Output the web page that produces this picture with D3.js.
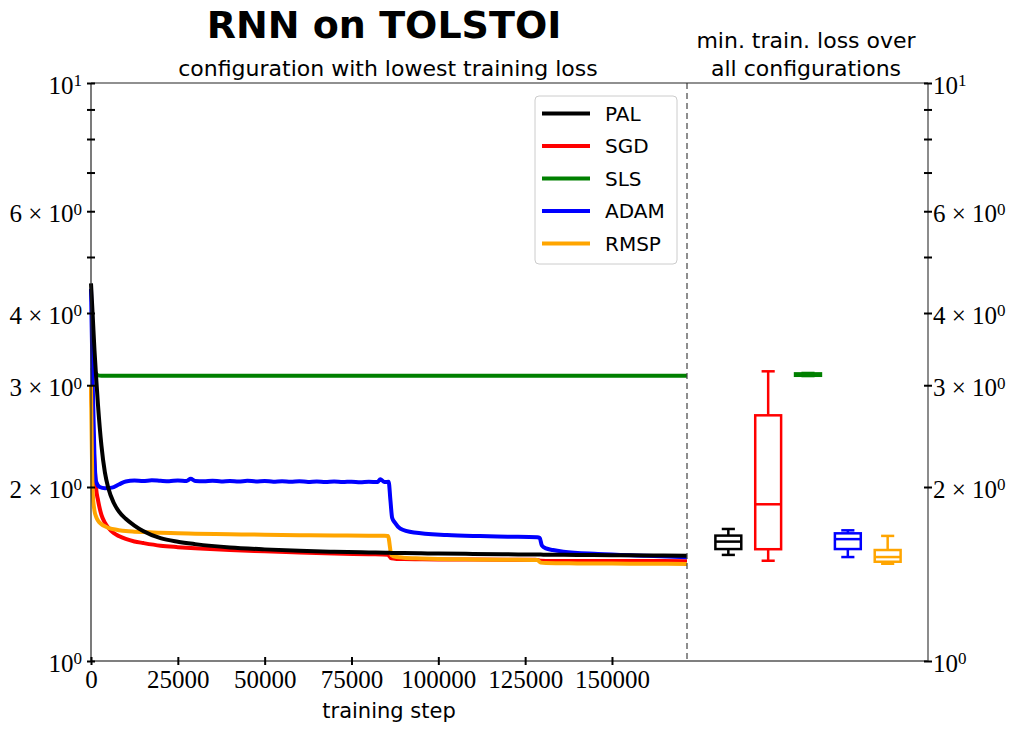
<!DOCTYPE html>
<html>
<head>
<meta charset="utf-8">
<script src="https://cdn.jsdelivr.net/npm/d3@7"></script>
<style>
  body { margin: 0; background: #fff; }
  svg { display: block; }
  .sans { font-family: "DejaVu Sans", sans-serif; }
  .serif { font-family: "Liberation Serif", "DejaVu Serif", serif; }
</style>
</head>
<body>
<div id="chart"></div>
<script>
// ---- data ----
const optimizers = ["PAL", "SGD", "SLS", "ADAM", "RMSP"];
const colors = ["#000000", "#ff0000", "#008000", "#0000ff", "#ffa500"];

const steps = [0, 500, 1000, 1500, 2000, 3000, 4000, 5000, 6500, 8000, 10000, 12500, 15000,
   20000, 25000, 30000, 40000, 50000, 60000, 70000, 80000, 85500, 86500, 88000, 90000, 95000,
   100000, 110000, 120000, 128500, 129500, 131000, 135000, 140000, 150000, 160000, 171600];

const palLoss = [4.50, 3.95, 3.45, 3.08, 2.78, 2.36, 2.12, 1.99, 1.88, 1.815, 1.762, 1.715, 1.678,
   1.631, 1.608, 1.593, 1.572, 1.560, 1.551, 1.545, 1.541, 1.539, 1.538, 1.538, 1.537, 1.536,
   1.534, 1.532, 1.530, 1.528, 1.528, 1.527, 1.527, 1.526, 1.524, 1.523, 1.521];

const sgdLoss = [3.00, 2.55, 2.20, 1.98, 1.90, 1.79, 1.735, 1.70, 1.665, 1.645, 1.626, 1.610, 1.600,
   1.583, 1.574, 1.567, 1.556, 1.548, 1.541, 1.535, 1.530, 1.527, 1.505, 1.502, 1.501, 1.500,
   1.499, 1.498, 1.497, 1.496, 1.491, 1.490, 1.490, 1.490, 1.489, 1.489, 1.488];

const slsLoss = [3.22, 3.21, 3.18, 3.14, 3.12, 3.115, 3.116, 3.115, 3.114, 3.115, 3.116, 3.115, 3.115,
   3.114, 3.115, 3.116, 3.115, 3.114, 3.115, 3.115, 3.116, 3.115, 3.114, 3.115, 3.115, 3.116,
   3.115, 3.114, 3.115, 3.115, 3.116, 3.115, 3.114, 3.115, 3.115, 3.116, 3.115];

const rmspLoss = [3.00, 1.95, 1.82, 1.775, 1.75, 1.725, 1.71, 1.70, 1.69, 1.684, 1.678, 1.674, 1.671,
   1.667, 1.664, 1.661, 1.657, 1.654, 1.651, 1.649, 1.647, 1.646, 1.525, 1.513, 1.509, 1.505,
   1.502, 1.499, 1.497, 1.495, 1.480, 1.477, 1.476, 1.475, 1.474, 1.473, 1.472];

const adamSteps = [0, 500, 1000, 1500, 2500, 4000, 6000, 8000, 10000, 12500, 15000, 17500, 20000,
   22500, 25000, 27500, 28700, 30000, 32500, 35000, 37500, 40000, 42500, 45000, 47500, 50000,
   52500, 55000, 57500, 60000, 62500, 65000, 67500, 70000, 72500, 75000, 77500, 80000, 82500,
   83300, 84500, 85700, 86200, 86700, 87500, 89000, 93000, 102500, 112000, 120000, 128500,
   129200, 129800, 131000, 133000, 136000, 146000, 160000, 171600];

const adamLoss = [4.40, 3.00, 2.25, 2.04, 2.00, 1.99, 1.995, 2.02, 2.045, 2.052, 2.048, 2.054, 2.050,
   2.047, 2.053, 2.049, 2.066, 2.049, 2.046, 2.051, 2.045, 2.049, 2.044, 2.050, 2.045, 2.048,
   2.043, 2.047, 2.042, 2.046, 2.041, 2.045, 2.040, 2.044, 2.040, 2.043, 2.039, 2.042, 2.040,
   2.062, 2.040, 2.042, 1.90, 1.77, 1.735, 1.695, 1.668, 1.652, 1.645, 1.641, 1.637,
   1.632, 1.585, 1.566, 1.556, 1.546, 1.532, 1.521, 1.512];

// min. train. loss over all configurations: [min, q1, median, q3, max]
const boxStats = [
   [1.526, 1.562, 1.609, 1.648, 1.692],   // PAL
   [1.491, 1.561, 1.867, 2.661, 3.171],   // SGD
   [3.112, 3.115, 3.130, 3.145, 3.150],   // SLS
   [1.513, 1.562, 1.625, 1.663, 1.683],   // ADAM
   [1.473, 1.485, 1.513, 1.556, 1.646]    // RMSP
];

const xTicks = [0, 25000, 50000, 75000, 100000, 125000, 150000];
const yMajor = [1, 2, 3, 4, 6, 10];
const yMinor = [5, 7, 8, 9];

// ---- layout ----
const W = 1018, H = 732;
const m = { left: 91, top: 83, bottom: 661, split: 687, right: 928 };

const svg = d3.select("#chart").append("svg")
   .attr("width", W)
   .attr("height", H);

const x = d3.scaleLinear().domain([0, 171600]).range([m.left, m.split]);
const y = d3.scaleLog().domain([1, 10]).range([m.bottom, m.top]);
const xb = d3.scaleLinear().domain([0, 6]).range([688.5, 927.5]);

// titles
svg.append("text")
   .attr("class", "sans")
   .attr("x", 384).attr("y", 38)
   .attr("text-anchor", "middle")
   .style("font-size", "38px").style("font-weight", "bold")
   .text("RNN on TOLSTOI");

svg.append("text")
   .attr("class", "sans")
   .attr("x", 388).attr("y", 76)
   .attr("text-anchor", "middle")
   .style("font-size", "22px")
   .text("configuration with lowest training loss");

svg.append("text")
   .attr("class", "sans")
   .attr("x", 806).attr("y", 48)
   .attr("text-anchor", "middle")
   .style("font-size", "22px")
   .text("min. train. loss over");

svg.append("text")
   .attr("class", "sans")
   .attr("x", 806).attr("y", 76)
   .attr("text-anchor", "middle")
   .style("font-size", "22px")
   .text("all configurations");

// lines
const line = d3.line()
   .curve(d3.curveMonotoneX)
   .x(d => x(d[0]))
   .y(d => y(d[1]));

const series = [
   { key: "SGD", xs: steps, ys: sgdLoss },
   { key: "SLS", xs: steps, ys: slsLoss },
   { key: "ADAM", xs: adamSteps, ys: adamLoss },
   { key: "RMSP", xs: steps, ys: rmspLoss },
   { key: "PAL", xs: steps, ys: palLoss }
];

const color = d3.scaleOrdinal().domain(optimizers).range(colors);

svg.append("g")
   .selectAll("path")
   .data(series)
 .enter().append("path")
   .attr("fill", "none")
   .attr("stroke", d => color(d.key))
   .attr("stroke-width", 4)
   .attr("stroke-linejoin", "round")
   .attr("d", d => line(d.xs.map((s, i) => [s, d.ys[i]])));

// boxplots
const boxW = 0.65, capW = 0.33;
const boxes = svg.append("g")
   .selectAll("g")
   .data(boxStats)
 .enter().append("g")
   .attr("stroke", (d, i) => colors[i])
   .attr("stroke-width", 2.5)
   .attr("fill", "none");

boxes.append("line")
   .attr("x1", (d, i) => xb(i + 1)).attr("x2", (d, i) => xb(i + 1))
   .attr("y1", d => y(d[0])).attr("y2", d => y(d[1]));
boxes.append("line")
   .attr("x1", (d, i) => xb(i + 1)).attr("x2", (d, i) => xb(i + 1))
   .attr("y1", d => y(d[3])).attr("y2", d => y(d[4]));
boxes.append("line")
   .attr("x1", (d, i) => xb(i + 1 - capW / 2)).attr("x2", (d, i) => xb(i + 1 + capW / 2))
   .attr("y1", d => y(d[0])).attr("y2", d => y(d[0]));
boxes.append("line")
   .attr("x1", (d, i) => xb(i + 1 - capW / 2)).attr("x2", (d, i) => xb(i + 1 + capW / 2))
   .attr("y1", d => y(d[4])).attr("y2", d => y(d[4]));
boxes.append("rect")
   .attr("x", (d, i) => xb(i + 1 - boxW / 2))
   .attr("width", xb(boxW) - xb(0))
   .attr("y", d => y(d[3]))
   .attr("height", d => y(d[1]) - y(d[3]));
boxes.append("line")
   .attr("x1", (d, i) => xb(i + 1 - boxW / 2)).attr("x2", (d, i) => xb(i + 1 + boxW / 2))
   .attr("y1", d => y(d[2])).attr("y2", d => y(d[2]));

// dashed separator
svg.append("line")
   .attr("x1", m.split).attr("x2", m.split)
   .attr("y1", m.top).attr("y2", m.bottom)
   .attr("stroke", "#444")
   .attr("stroke-width", 1.2)
   .attr("stroke-dasharray", "6,4");

// spines
svg.append("line").attr("x1", m.left).attr("x2", m.right).attr("y1", m.top).attr("y2", m.top)
   .attr("stroke", "#222").attr("stroke-width", 1.2);
svg.append("line").attr("x1", m.left).attr("x2", m.right).attr("y1", m.bottom).attr("y2", m.bottom)
   .attr("stroke", "#555").attr("stroke-width", 1.5);
svg.append("line").attr("x1", m.left).attr("x2", m.left).attr("y1", m.top).attr("y2", m.bottom)
   .attr("stroke", "#222").attr("stroke-width", 1.2);
svg.append("line").attr("x1", m.right).attr("x2", m.right).attr("y1", m.top).attr("y2", m.bottom)
   .attr("stroke", "#666").attr("stroke-width", 1.5);

// x axis
const xAxis = svg.append("g")
   .attr("transform", "translate(0," + m.bottom + ")")
   .call(d3.axisBottom(x).tickValues(xTicks).tickSizeOuter(0).tickSizeInner(4).tickFormat(d3.format("d")));
xAxis.select(".domain").remove();
xAxis.selectAll(".tick line").attr("y1", -4).attr("y2", 4).attr("stroke", "#000").attr("stroke-width", 2);
xAxis.selectAll(".tick text")
   .attr("class", "serif")
   .attr("y", 9)
   .attr("dy", "0.71em")
   .style("font-size", "25px")
   .attr("fill", "#000");

svg.append("text")
   .attr("class", "sans")
   .attr("x", 389).attr("y", 718)
   .attr("text-anchor", "middle")
   .style("font-size", "21px")
   .text("training step");

// y axes (left and right)
function yLabel(sel) {
   sel.each(function(d) {
      let t = d3.select(this).text("");
      let exp = Math.floor(Math.log10(d) + 1e-9);
      let mant = d / Math.pow(10, exp);
      if (Math.abs(mant - 1) > 1e-9) t.append("tspan").text(mant + " \u00d7 ");
      t.append("tspan").text("10");
      t.append("tspan").attr("dy", "-0.42em").style("font-size", "17px").text(exp);
   });
}

[[m.left, d3.axisLeft, "end", -9], [m.right, d3.axisRight, "start", 5]].forEach(([pos, ax, anchor, dx]) => {
   let g = svg.append("g").attr("transform", "translate(" + pos + ",0)");
   let a = g.call(ax(y).tickValues(yMajor.concat(yMinor)).tickSizeOuter(0).tickSizeInner(4));
   a.select(".domain").remove();
   a.selectAll(".tick line")
      .attr("x1", -4).attr("x2", 4)
      .attr("stroke", "#000").attr("stroke-width", 2);
   a.selectAll(".tick text")
      .filter(d => yMinor.indexOf(d) >= 0).remove();
   a.selectAll(".tick text")
      .attr("class", "serif")
      .attr("x", dx)
      .attr("dy", "0.4em")
      .attr("text-anchor", anchor)
      .style("font-size", "25px")
      .attr("fill", "#000")
      .call(yLabel);
});

// legend
const legend = svg.append("g").attr("transform", "translate(535,96)");
legend.append("rect")
   .attr("width", 142).attr("height", 168)
   .attr("rx", 4)
   .attr("fill", "#fff").attr("fill-opacity", 0.8)
   .attr("stroke", "#ccc");

const item = legend.selectAll(".item")
   .data(optimizers)
 .enter().append("g")
   .attr("class", "item")
   .attr("transform", (d, i) => "translate(0," + (17.5 + i * 32.5) + ")");
item.append("line")
   .attr("x1", 7).attr("x2", 55)
   .attr("stroke", d => color(d))
   .attr("stroke-width", 4);
item.append("text")
   .attr("class", "sans")
   .attr("x", 70)
   .attr("dy", "0.36em")
   .style("font-size", "20px")
   .text(d => d);
</script>
</body>
</html>
